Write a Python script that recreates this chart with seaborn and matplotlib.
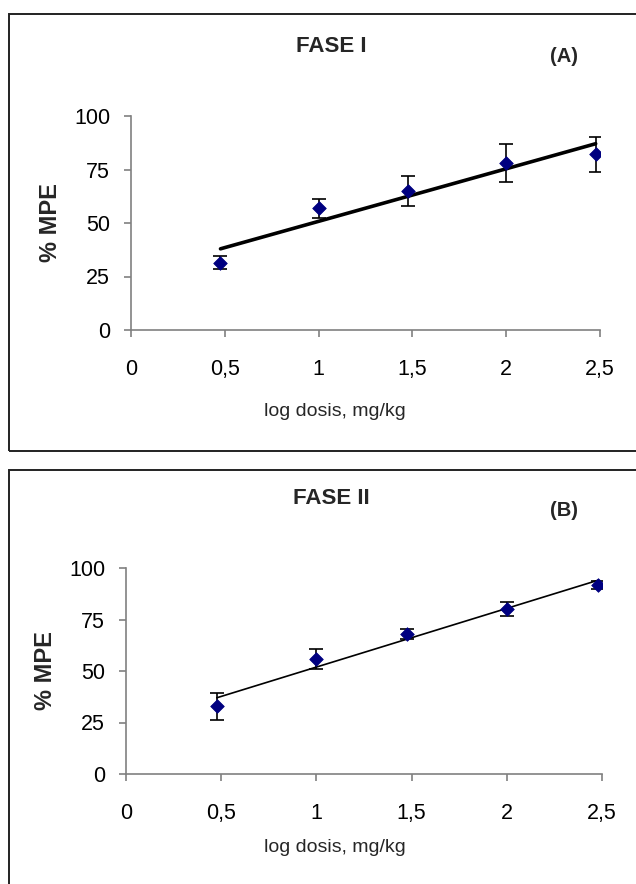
import numpy as np
import pandas as pd
import seaborn as sns
import matplotlib
matplotlib.use("Agg")
import matplotlib.pyplot as plt
from matplotlib.patches import Rectangle
from matplotlib.ticker import FuncFormatter

# ---- data ----
log_dose = [0.477, 1.0, 1.477, 2.0, 2.477]
mpe_fase1 = [31.5, 56.9, 65.1, 77.9, 82.2]
err_fase1 = [3.1, 4.5, 7.0, 8.8, 8.2]
mpe_fase2 = [32.8, 56.0, 68.0, 80.1, 91.9]
err_fase2 = [6.4, 4.8, 2.3, 3.2, 2.0]
titles = ["FASE I", "FASE II"]
tags = ["(A)", "(B)"]
x_ticks = [0, 0.5, 1, 1.5, 2, 2.5]
y_ticks = [0, 25, 50, 75, 100]

sns.set_style("white")
plt.rcParams['font.family'] = ['Liberation Sans', 'DejaVu Sans']

W, H = 636, 884
fig = plt.figure(figsize=(W / 100, H / 100), dpi=100)

def px_axes(left, right, top, bottom):
    return fig.add_axes([left / W, 1 - bottom / H, (right - left) / W, (bottom - top) / H])

# frames around each panel
fig.add_artist(Rectangle((9 / W, 1 - 451 / H), 2, (451 - 14) / H, transform=fig.transFigure,
                         fill=False, edgecolor='#222222', linewidth=1.4))
fig.add_artist(Rectangle((9 / W, -1), 2, 1 + (1 - 470 / H), transform=fig.transFigure,
                         fill=False, edgecolor='#222222', linewidth=1.4))

panels = [
    dict(ax=px_axes(131, 600, 116, 330), y=mpe_fase1, e=err_fase1, lw=2.6,
         title_y=47, tag_y=56, xlabel_y=411),
    dict(ax=px_axes(126, 602, 568, 774), y=mpe_fase2, e=err_fase2, lw=1.2,
         title_y=499, tag_y=511, xlabel_y=848),
]

fmt = FuncFormatter(lambda v, p: ("%g" % v).replace('.', ','))
grey = '#808080'

for i, p in enumerate(panels):
    ax = p['ax']
    df = pd.DataFrame({'x': log_dose, 'y': p['y'], 'e': p['e']})
    sns.regplot(data=df, x='x', y='y', ax=ax, scatter=False, ci=None,
                line_kws=dict(color='black', linewidth=p['lw']), truncate=True)
    ax.errorbar(df['x'], df['y'], yerr=df['e'], fmt='none', ecolor='black',
                elinewidth=1.2, capsize=5, capthick=1.2, zorder=3)
    sns.scatterplot(data=df, x='x', y='y', ax=ax, marker='D', s=48, color='#000080',
                    edgecolor='#000080', zorder=4)
    ax.set_xlim(0, 2.5)
    ax.set_ylim(0, 100)
    ax.set_xticks(x_ticks)
    ax.set_yticks(y_ticks)
    ax.xaxis.set_major_formatter(fmt)
    for s in ['top', 'right']:
        ax.spines[s].set_visible(False)
    for s in ['left', 'bottom']:
        ax.spines[s].set_color(grey)
        ax.spines[s].set_linewidth(1.2)
    ax.tick_params(axis='both', direction='out', length=5, width=1.2, color=grey,
                   labelsize=15.5, labelcolor='black', left=True, bottom=True)
    ax.tick_params(axis='y', pad=10)
    ax.tick_params(axis='x', pad=16)
    ax.set_xlabel('')
    ax.set_ylabel('% MPE', fontsize=17, fontweight='bold', labelpad=9)
    ax.patch.set_alpha(0)
    fig.text(331 / W, 1 - p['title_y'] / H, titles[i], ha='center', va='center',
             fontsize=16, fontweight='bold')
    fig.text(564 / W, 1 - p['tag_y'] / H, tags[i], ha='center', va='center',
             fontsize=14.5, fontweight='bold')
    fig.text(335 / W, 1 - p['xlabel_y'] / H, 'log dosis, mg/kg', ha='center', va='center',
             fontsize=14)

fig.savefig('out.png', dpi=100)
